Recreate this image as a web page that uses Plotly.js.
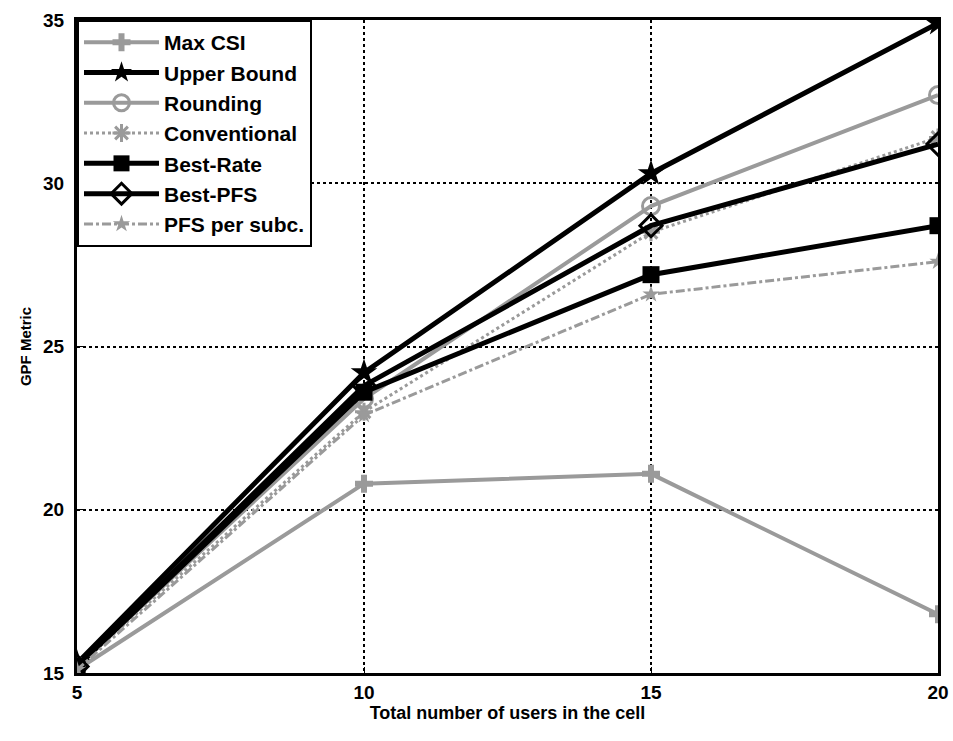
<!DOCTYPE html>
<html>
<head>
<meta charset="utf-8">
<script src="https://cdn.plot.ly/plotly-3.0.1.min.js"></script>
<style>html,body{margin:0;padding:0;background:#fff;}#chart{width:953px;height:741px;}</style>
</head>
<body>
<div id="chart"></div>
<script>
const users = [5, 10, 15, 20];
const maxCSI = [15.1, 20.8, 21.1, 16.8];
const upperBound = [15.3, 24.2, 30.3, 34.9];
const rounding = [15.2, 23.4, 29.3, 32.7];
const conventional = [15.2, 23.0, 28.5, 31.4];
const bestRate = [15.2, 23.6, 27.2, 28.7];
const bestPFS = [15.2, 23.8, 28.7, 31.2];
const pfsPerSubc = [15.1, 22.9, 26.6, 27.6];
const xTicks = [5, 10, 15, 20];
const yTicks = [15, 20, 25, 30, 35];

const gray = '#9a9a9a';
const traces = [
  {name: 'Max CSI', x: users, y: maxCSI, mode: 'lines+markers',
   line: {color: gray, width: 4}, marker: {symbol: 'cross', size: 15, color: gray}},
  {name: 'Upper Bound', x: users, y: upperBound, mode: 'lines+markers',
   line: {color: '#000', width: 5}, marker: {symbol: 'star', size: 20, color: '#000'}},
  {name: 'Rounding', x: users, y: rounding, mode: 'lines+markers',
   line: {color: gray, width: 4}, marker: {symbol: 'circle-open', size: 17, color: gray, line: {width: 3, color: gray}}},
  {name: 'Conventional', x: users, y: conventional, mode: 'lines+markers',
   line: {color: gray, width: 3, dash: 'dot'}, marker: {symbol: 'asterisk-open', size: 15, color: gray, line: {width: 3, color: gray}}},
  {name: 'Best-Rate', x: users, y: bestRate, mode: 'lines+markers',
   line: {color: '#000', width: 5}, marker: {symbol: 'square', size: 17, color: '#000'}},
  {name: 'Best-PFS', x: users, y: bestPFS, mode: 'lines+markers',
   line: {color: '#000', width: 5}, marker: {symbol: 'diamond-open', size: 17, color: '#000', line: {width: 3, color: '#000'}}},
  {name: 'PFS per subc.', x: users, y: pfsPerSubc, mode: 'lines+markers',
   line: {color: gray, width: 3, dash: 'dashdot'}, marker: {symbol: 'star', size: 13, color: gray}}
];

const font = {family: 'Liberation Sans, Arial, sans-serif', color: '#000', size: 16, weight: 'bold'};
const layout = {
  width: 953, height: 741,
  margin: {l: 77, r: 15, t: 20, b: 68},
  paper_bgcolor: '#fff', plot_bgcolor: '#fff',
  font: font,
  showlegend: true,
  legend: {x: 0, y: 1, xanchor: 'left', yanchor: 'top', bgcolor: '#fff',
           bordercolor: '#000', borderwidth: 2, itemwidth: 75,
           font: {family: font.family, size: 21, color: '#000', weight: 'bold'},
           tracegroupgap: 0},
  xaxis: {range: [5, 20], tickvals: xTicks, ticktext: xTicks.map(String),
          showgrid: true, gridcolor: '#000', griddash: 'dot', gridwidth: 2,
          showline: true, linecolor: '#000', linewidth: 3, mirror: true,
          ticks: 'inside', ticklen: 6, tickcolor: '#000', zeroline: false,
          tickfont: {family: font.family, size: 19, color: '#000', weight: 'bold'},
          title: {text: 'Total number of users in the cell', standoff: 4,
                  font: {family: font.family, size: 18, color: '#000', weight: 'bold'}}},
  yaxis: {range: [15, 35], tickvals: yTicks, ticktext: yTicks.map(String),
          showgrid: true, gridcolor: '#000', griddash: 'dot', gridwidth: 2,
          showline: true, linecolor: '#000', linewidth: 3, mirror: true,
          ticks: 'inside', ticklen: 6, tickcolor: '#000', zeroline: false,
          ticklabelstandoff: 6,
          tickfont: {family: font.family, size: 19, color: '#000', weight: 'bold'},
          title: {text: 'GPF Metric', standoff: 8,
                  font: {family: font.family, size: 15, color: '#000', weight: 'bold'}}}
};

Plotly.newPlot('chart', traces, layout, {displayModeBar: false, staticPlot: true});
</script>
</body>
</html>
